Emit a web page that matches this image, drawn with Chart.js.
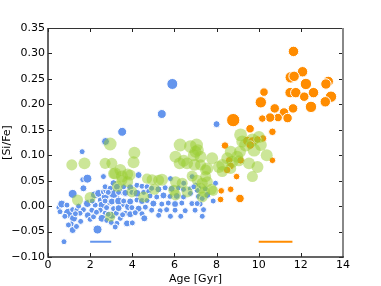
<!DOCTYPE html>
<html><head><meta charset="utf-8">
<script src="https://cdn.jsdelivr.net/npm/chart.js@4/dist/chart.umd.min.js"></script>
<style>html,body{margin:0;padding:0;background:#fff;}canvas{display:block;}</style>
</head><body>
<canvas id="c" width="381" height="286"></canvas>
<script>
// ---- data (age [Gyr], [Si/Fe]) ----
const bluePoints = [
[5.9,0.24],[5.4,0.181],[8.0,0.161],[3.52,0.146],[2.73,0.127],[1.62,0.107],
[0.52,-0.003],[0.57,-0.011],[0.65,0.004],[0.97,-0.014],[1.17,-0.007],[1.37,-0.008],[1.21,-0.024],[1.1,-0.035],[0.97,-0.037],[1.17,-0.047],[0.76,-0.07],[1.17,0.024],[1.65,0.052],[1.87,0.054],[1.68,0.035],[1.87,0.005],[1.68,-0.007],[1.52,-0.014],[1.89,-0.018],[0.8,-0.02],[1.3,-0.015],[1.45,0.0],[1.55,-0.03],[1.35,-0.04],[0.9,0.002],
[2.35,-0.046],[2.2,0.022],[2.4,0.025],[2.48,0.012],[2.56,0.002],[2.24,0.002],[2.48,-0.008],[2.71,-0.014],[2.56,-0.024],[2.79,-0.028],[3.03,-0.018],[3.11,-0.005],[2.95,0.008],[3.27,0.018],[3.51,0.005],[3.24,-0.014],[3.43,-0.024],[3.27,-0.034],[3.75,-0.034],[3.67,-0.014],[3.82,-0.001],[2.95,0.022],[2.71,0.018],[2.63,0.028],[2.79,0.031],[3.03,0.031],[3.27,0.030],[3.51,0.028],[3.71,0.025],[3.11,0.025],[2.63,0.058],[2.08,-0.008],[2.0,-0.026],[2.16,-0.021],[2.1,0.01],[2.3,-0.012],
[3.11,0.045],[2.71,0.038],[2.95,0.035],[3.27,0.038],[3.59,0.038],[3.9,0.037],[4.22,0.041],[4.46,0.039],[4.7,0.038],
[2.86,0.027],[3.35,0.027],[3.67,0.026],[3.98,0.027],[4.22,0.025],[4.54,0.027],[4.78,0.029],
[2.71,0.01],[3.03,0.009],[3.35,0.01],[3.59,0.01],[3.9,0.009],[4.22,0.012],[4.46,0.01],[4.7,0.011],
[2.78,-0.003],[3.35,-0.004],[3.98,-0.003],[4.3,-0.005],[4.62,-0.002],
[2.86,-0.016],[3.54,-0.017],[3.9,-0.016],[4.14,-0.013],[4.46,-0.015],
[3.0,-0.032],[4.0,-0.033],[3.19,-0.041],[4.57,-0.024],
[4.3,0.061],[5.81,0.054],
[4.92,0.035],[5.24,0.033],[5.56,0.036],[5.87,0.034],[6.19,0.036],[6.43,0.033],[6.75,0.034],[7.14,0.036],[7.46,0.034],
[4.84,0.02],[5.16,0.018],[5.48,0.021],[5.79,0.019],[6.11,0.02],[6.43,0.018],[7.14,0.019],
[5.0,0.005],[5.4,0.004],[5.71,0.006],[6.03,0.004],[6.35,0.006],[6.83,0.005],[7.22,0.004],
[4.92,-0.008],[5.32,-0.009],[5.63,-0.007],[6.03,-0.008],[6.51,-0.009],[6.98,-0.008],[7.38,-0.007],
[5.25,-0.018],[5.81,-0.02],[6.3,-0.02],
[6.84,0.058],[7.0,0.041],[6.76,0.025],[7.08,0.031],[7.32,0.015],[7.08,0.005],[7.56,0.022],[7.95,0.045],[7.84,0.01],[7.32,-0.02],[6.44,0.045],[6.92,0.038]
];
const greenPoints = [
[1.13,0.081],[1.73,0.084],[2.71,0.084],[2.95,0.122],[3.03,0.084],[3.11,0.064],[3.43,0.071],[3.19,0.064],[3.78,0.063],[3.51,0.051],[3.78,0.048],[3.3,0.039],[3.51,0.058],[3.9,0.061],[4.06,0.086],[4.1,0.105],[4.7,0.054],[4.94,0.052],[5.25,0.051],[5.41,0.052],[5.05,0.033],[6.05,0.048],[5.97,0.031],[4.54,0.018],[3.98,0.028],[2.0,0.017],[1.40,0.012],[2.95,-0.021],[6.05,0.022],[6.6,0.028],
[6.27,0.12],[6.76,0.117],[7.05,0.12],[7.11,0.11],[6.92,0.1],[6.05,0.097],[6.44,0.089],[6.6,0.084],[6.25,0.084],[7.56,0.074],[7.48,0.058],[6.84,0.059],[7.08,0.051],[7.32,0.045],[6.37,0.045],[7.24,0.035],[7.43,0.028],[7.32,0.018],[7.84,0.030],[7.0,0.107],[7.24,0.097],[6.95,0.081],[7.24,0.081],[7.48,0.071],[7.56,0.048],[7.75,0.033],
[7.79,0.094],[8.11,0.077],[8.27,0.068],[8.27,0.081],[8.51,0.094],[8.75,0.087],[8.98,0.097],[8.67,0.107],[8.67,0.074],[9.14,0.14],[9.22,0.127],[9.38,0.12],[9.7,0.13],[9.94,0.077],[9.54,0.084],[9.78,0.11],[10.01,0.136],[10.1,0.12],[9.7,0.058],[10.38,0.1],[9.11,0.107],[9.06,0.089]
];
const orangePoints = [
[11.65,0.304],[12.08,0.264],[11.52,0.253],[11.68,0.255],[12.24,0.240],[13.3,0.245],[13.19,0.240],[10.25,0.224],[11.49,0.223],[11.76,0.223],[12.6,0.223],[12.16,0.215],[13.43,0.215],[13.16,0.205],[10.1,0.204],[12.48,0.195],[10.76,0.192],[11.63,0.192],[11.2,0.184],[11.37,0.173],[10.92,0.174],[10.54,0.174],[10.17,0.172],[9.59,0.152],[10.65,0.146],[10.2,0.133],[9.46,0.128],[9.7,0.127],[9.94,0.131],[9.6,0.12],
[8.79,0.169],[8.4,0.119],[9.14,0.09],[8.6,0.09],[8.67,0.079],[8.5,0.071],[8.95,0.058],[8.22,0.030],[8.67,0.033],[8.19,0.013],[9.11,0.015],[10.65,0.09]
];
// typical error bars (age range at fixed [Si/Fe])
const blueErrAge = [2.0, 3.0];
const orangeErrAge = [10.0, 11.6];
const errSiFe = -0.07;
const xTicks = [0,2,4,6,8,10,12,14];
const yTicks = [-0.10,-0.05,0.00,0.05,0.10,0.15,0.20,0.25,0.30,0.35];

// ---- marker radii (style) ----
const blueRadius = [
5.5,4.5,3.5,4.5,4,3,
3,3,4,5,3,3,4,3,3,3.5,3,4.5,3,4.5,3.5,4,3,3,3.5,3,3,3,3,3,3,
4.5,4,4,3,4,3,3,3,4,3,4,3,4,3,4,3,3,3,3.5,3,4,3,4,3,4,4,4,3.5,3,5,3,3,3,3,3,3,
3.5,3,3,3.5,3,3.5,3,3,3,
3,3,3.5,3,4,3,3,
3,3.5,4,3,3.5,3,3.5,3,
3,3.5,3,3.5,3,
3,3,3.5,3,3,
3,3,3,3.5,
3.5,3,
3,3.5,3,3.5,3,3,3,3,3,
3,3,3.5,3,3.5,3,3,
3.5,3,3,3.5,3,3,3,
3,3,3,3,3,3,3,
3,3,3,
3,3,3,3,3,3,3.5,3,3,3,3,3
];
const greenRadius = [
6,6.5,6,7,6,6,6.5,6.5,6,6,6,6,6.5,6,6.5,6.5,5.5,6,6,6.5,6,6,6,6,6,6,6,5.5,6,6,
7,7,7,6.5,6.5,6.5,6.5,6.5,6.5,6.5,6,6,6,6,6,6,6,6,5.5,6.5,6.5,6.5,6,6,6,6,
6.5,6.5,6,6.5,6.5,6.5,6.5,6.5,6,7,6.5,7,7,6.5,6.5,7,6.5,6.5,6,6.5,6.5,6
];
const orangeRadius = [
5.5,5.5,6,5.5,6,5.5,5.5,4.5,5.5,5.5,5.5,5,6,5.5,6,6,5,5,5,5,4.5,5,4,4.5,4,4,5,5,4,4.5,
7,4,4,4,4,4,3.5,3.5,3.5,3.5,4.5,3.5
];

const toXY = arr => arr.map(p => ({x:p[0], y:p[1]}));
const fmtY = v => { if (Math.abs(v) < 1e-9) return '0.00'; return v.toFixed(2).replace('-', '\u2212'); };

const frame = {
  id: 'frame',
  afterDatasetsDraw(chart) {
    const {ctx, chartArea:a, scales} = chart;
    ctx.save();
    ctx.strokeStyle = '#222';
    ctx.lineWidth = 1;
    ctx.beginPath();
    xTicks.forEach(t => {
      const px = Math.round(scales.x.getPixelForValue(t)) + 0.5;
      ctx.moveTo(px, a.bottom); ctx.lineTo(px, a.bottom - 4);
      ctx.moveTo(px, a.top); ctx.lineTo(px, a.top + 4);
    });
    yTicks.forEach(t => {
      const py = Math.round(scales.y.getPixelForValue(t)) + 0.5;
      ctx.moveTo(a.left, py); ctx.lineTo(a.left + 4, py);
      ctx.moveTo(a.right, py); ctx.lineTo(a.right - 4, py);
    });
    ctx.stroke();
    ctx.lineWidth = 1;
    ctx.strokeStyle = '#333';
    ctx.beginPath(); ctx.moveTo(a.left, a.top + 0.5); ctx.lineTo(a.right, a.top + 0.5); ctx.stroke();
    ctx.strokeStyle = '#888';
    ctx.lineWidth = 2;
    ctx.beginPath(); ctx.moveTo(a.right, a.top); ctx.lineTo(a.right, a.bottom); ctx.stroke();
    ctx.strokeStyle = '#333';
    ctx.lineWidth = 1.5;
    ctx.beginPath(); ctx.moveTo(a.left, a.top); ctx.lineTo(a.left, a.bottom); ctx.lineTo(a.right + 1, a.bottom); ctx.stroke();
    ctx.restore();
  }
};

new Chart(document.getElementById('c'), {
  type: 'scatter',
  data: {
    datasets: [
      { label: 'green', data: toXY(greenPoints), backgroundColor: 'rgba(154,205,50,0.5)', borderWidth: 0, pointRadius: greenRadius.map(r => r * 0.92), order: 0 },
      { label: 'orange', data: toXY(orangePoints), backgroundColor: '#FF8C00', borderColor: '#ffffff', borderWidth: 1, pointRadius: orangeRadius.map(r => r * 0.95), order: 1 },
      { label: 'blue', data: toXY(bluePoints), backgroundColor: '#6495ED', borderColor: '#ffffff', borderWidth: 1, pointRadius: blueRadius, order: 2 },
      { type: 'line', label: 'blueErr', data: blueErrAge.map(a => ({x:a, y:errSiFe})), borderColor: '#6495ED', borderWidth: 2, pointRadius: 0, order: 3 },
      { type: 'line', label: 'orangeErr', data: orangeErrAge.map(a => ({x:a, y:errSiFe})), borderColor: '#FF8C00', borderWidth: 2, pointRadius: 0, order: 3 }
    ]
  },
  options: {
    responsive: false,
    animation: false,
    devicePixelRatio: 1,
    layout: { padding: { top: 28, right: 38, left: 0, bottom: 0 } },
    plugins: { legend: { display: false }, tooltip: { enabled: false } },
    scales: {
      x: {
        type: 'linear', min: 0, max: 14,
        afterBuildTicks: s => { s.ticks = xTicks.map(v => ({value: v})); },
        ticks: { color: '#000', font: { family: 'DejaVu Sans', size: 11 }, padding: 2, maxRotation: 0, callback: v => String(v) },
        grid: { display: false, drawTicks: false },
        border: { display: false },
        title: { display: true, text: 'Age [Gyr]', color: '#000', font: { family: 'DejaVu Sans', size: 11 }, padding: { top: 1, bottom: 0 } },
        afterFit: s => { s.height = 29; }
      },
      y: {
        type: 'linear', min: -0.1, max: 0.35,
        afterBuildTicks: s => { s.ticks = yTicks.map(v => ({value: v})); },
        ticks: { color: '#000', font: { family: 'DejaVu Sans', size: 11 }, padding: 3, callback: v => fmtY(v) },
        grid: { display: false, drawTicks: false },
        border: { display: false },
        title: { display: true, text: '[Si/Fe]', color: '#000', font: { family: 'DejaVu Sans', size: 11 }, padding: { top: 1, bottom: 0 } },
        afterFit: s => { s.width = 48; }
      }
    }
  },
  plugins: [frame]
});
</script>
</body></html>
